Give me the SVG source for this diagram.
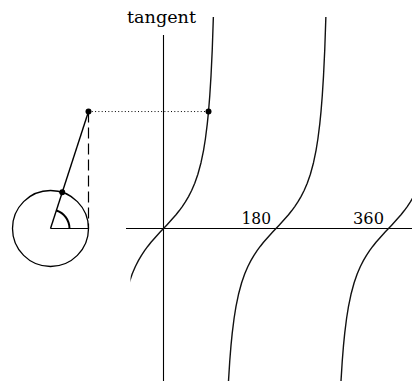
<svg xmlns="http://www.w3.org/2000/svg" width="412" height="381" viewBox="0 0 412 381">
<style>
.ax{stroke:#000;stroke-width:1.1;fill:none}
.cv{stroke:#111;stroke-width:1.4;fill:none;stroke-linejoin:round}
.lbl{font-family:"DejaVu Serif","Liberation Serif",serif;font-weight:normal;fill:#000}
.dot{fill:#000}
</style>
<defs>
<polyline id="branch" points="-50,215.5 -48.75,178.8 -47.5,152.4 -46.25,132.5 -45,116.9 -43.75,104.4 -41.875,89.5 -40,77.9 -37.5,65.8 -34.375,54.3 -31.25,45.3 -28.125,38 -25,31.9 -21.875,26.6 -18.75,21.9 -15.625,17.7 -12.5,13.8 -9.375,10.2 -6.25,6.7 -3.125,3.3 0,0 3.125,-3.3 6.25,-6.7 9.375,-10.2 12.5,-13.8 15.625,-17.7 18.75,-21.9 21.875,-26.6 25,-31.9 28.125,-38 31.25,-45.3 34.375,-54.3 37.5,-65.8 40,-77.9 41.875,-89.5 43.75,-104.4 45,-116.9 46.25,-132.5 47.5,-152.4 48.75,-178.8 50,-215.5"/>
<clipPath id="plot"><rect x="130.5" y="17" width="282" height="364"/></clipPath>
</defs>
<g id="axes">
<line class="ax" x1="163.5" y1="35" x2="163.5" y2="381"/>
<line class="ax" x1="126" y1="228.5" x2="412" y2="228.5"/>
</g>
<g id="labels">
<text class="lbl" x="127" y="23" font-size="17.5" textLength="69" lengthAdjust="spacingAndGlyphs">tangent</text>
<text class="lbl" x="241.5" y="223.5" font-size="17" textLength="29.5" lengthAdjust="spacingAndGlyphs">180</text>
<text class="lbl" x="353" y="223.5" font-size="17" textLength="31" lengthAdjust="spacingAndGlyphs">360</text>
</g>
<g id="curves" clip-path="url(#plot)">
<use href="#branch" class="cv" transform="translate(163.5,228.5)"/>
<use href="#branch" class="cv" transform="translate(276,228.5)"/>
<use href="#branch" class="cv" transform="translate(388.5,228.5)"/>
</g>
<g id="unit-circle">
<circle cx="50.5" cy="228.5" r="38" fill="none" stroke="#000" stroke-width="1.3"/>
<line x1="50.5" y1="228.5" x2="88.5" y2="228.5" stroke="#000" stroke-width="1.2"/>
<path d="M69.5,228.5 A19,19 0 0 0 56.37,210.43" fill="none" stroke="#000" stroke-width="2"/>
</g>
<g id="connectors">
<line x1="50.5" y1="228.5" x2="88.5" y2="111.55" stroke="#000" stroke-width="1.4"/>
<line x1="88.5" y1="111.55" x2="88.5" y2="228.5" stroke="#000" stroke-width="1.2" stroke-dasharray="11,5"/>
<line x1="88.5" y1="111.55" x2="208.5" y2="111.55" stroke="#000" stroke-width="1" stroke-dasharray="1,2.3"/>
</g>
<g id="points">
<circle class="dot" cx="62.24" cy="192.36" r="3"/>
<circle class="dot" cx="88.5" cy="111.55" r="3"/>
<circle class="dot" cx="208.5" cy="111.55" r="3"/>
</g>
</svg>
